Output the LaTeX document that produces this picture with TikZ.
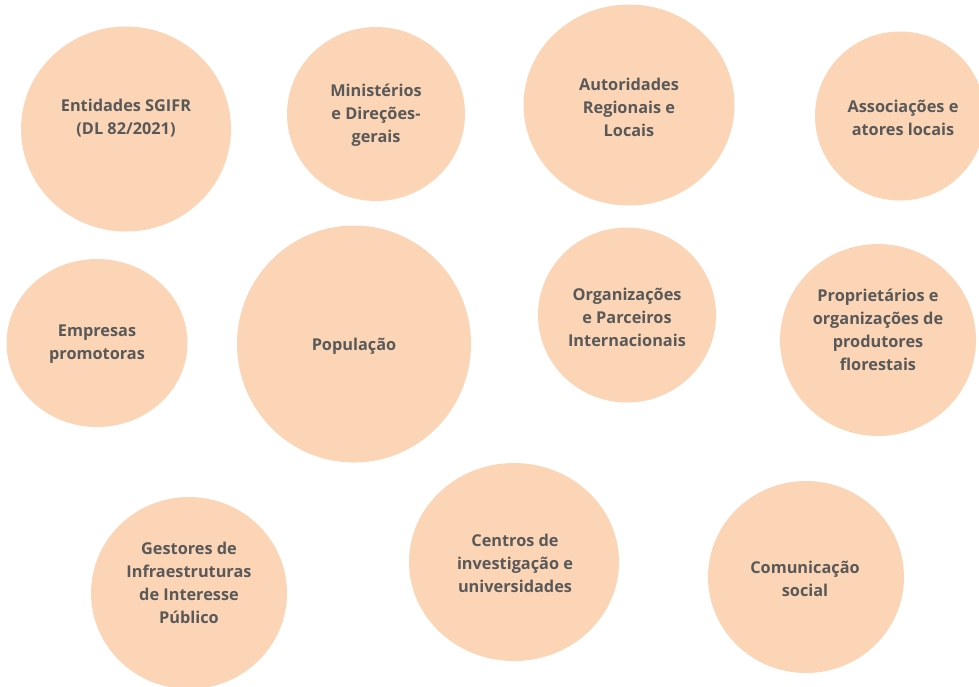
\documentclass[tikz,border=0pt]{standalone}
\usepackage{fontspec}
\setmainfont{Open Sans}
\usetikzlibrary{shapes.geometric}
\definecolor{peach}{HTML}{FBD5B5}
\definecolor{txtgray}{HTML}{595959}
\tikzset{
  bubble/.style={ellipse, fill=peach, draw=none, inner sep=0pt},
  lbl/.style={align=center, text=txtgray, font=\fontsize{16.3}{23}\selectfont\bfseries, inner sep=0pt}
}
\begin{document}
\begin{tikzpicture}[x=1pt,y=-1pt]
\useasboundingbox (0,0) rectangle (979,686);
% circles
\node[bubble, minimum width=210pt, minimum height=205pt] (c1) at (126,129) {};
\node[bubble, minimum width=178pt, minimum height=174pt] (c2) at (376,114) {};
\node[bubble, minimum width=211pt, minimum height=201pt] (c3) at (629,105) {};
\node[bubble, minimum width=170pt, minimum height=169pt] (c4) at (900,116) {};
\node[bubble, minimum width=181pt, minimum height=168pt] (c5) at (97,343) {};
\node[bubble, minimum width=234pt, minimum height=237pt] (c6) at (354,344) {};
\node[bubble, minimum width=178pt, minimum height=175pt] (c7) at (627,315) {};
\node[bubble, minimum width=196pt, minimum height=192pt] (c8) at (878,340) {};
\node[bubble, minimum width=196pt, minimum height=192pt] (c9) at (189,593) {};
\node[bubble, minimum width=210pt, minimum height=198pt] (c10) at (514,562) {};
\node[bubble, minimum width=196pt, minimum height=192pt] (c11) at (806,577) {};
% labels
\node[lbl] (t1) at (126,118.5) {Entidades SGIFR\\(DL 82/2021)};
\node[lbl] (t2) at (376,115) {Ministérios\\e Direções-\\gerais};
\node[lbl] (t3) at (629,107) {Autoridades\\Regionais e\\Locais};
\node[lbl] (t4) at (903,118) {Associações e\\atores locais};
\node[lbl] (t5) at (97,344.5) {Empresas\\promotoras};
\node[lbl] (t6) at (354,346) {População};
\node[lbl] (t7) at (627,317) {Organizações\\e Parceiros\\Internacionais};
\node[lbl] (t8) at (878,330) {Proprietários e\\organizações de\\produtores\\florestais};
\node[lbl] (t9) at (189,583) {Gestores de\\Infraestruturas\\de Interesse\\Público};
\node[lbl] (t10) at (515,563) {Centros de\\investigação e\\universidades};
\node[lbl] (t11) at (805,578.5) {Comunicação\\social};
\end{tikzpicture}
\end{document}
